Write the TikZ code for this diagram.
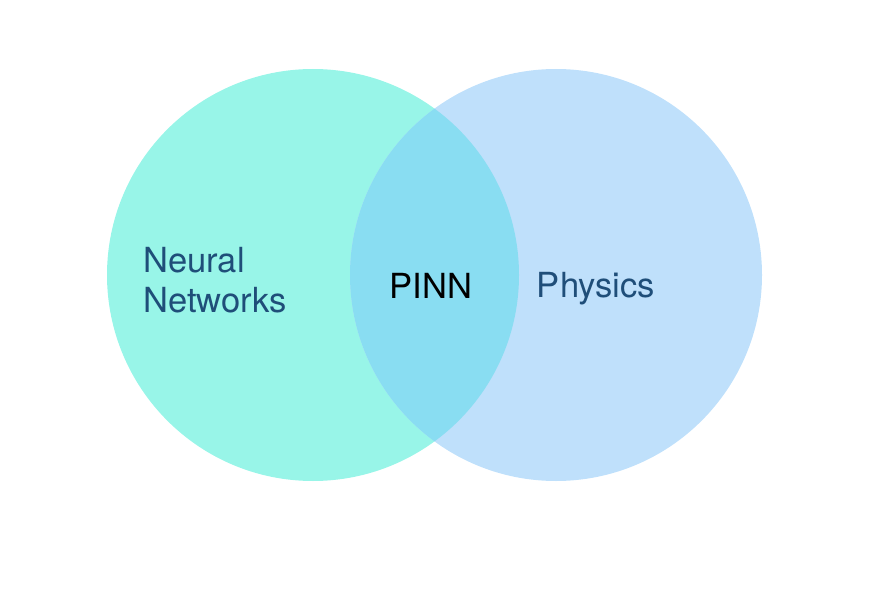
\documentclass[tikz,border=0pt]{standalone}
\usepackage{fontspec}
\setmainfont{TeX Gyre Heros}
\usepackage{xcolor}
\usetikzlibrary{positioning}

\definecolor{nncol}{HTML}{98F5E8}
\definecolor{phycol}{HTML}{BFE0FB}
\definecolor{pinncol}{HTML}{89DDF2}
\definecolor{labcol}{HTML}{1F4E79}

\begin{document}
\begin{tikzpicture}[
        x=0.03cm, y=-0.03cm,
        label/.style={
            inner sep=0pt, text=labcol,
            font=\fontsize{29.5}{34}\selectfont
        },
    ]

    \useasboundingbox (0,0) rectangle (870,592);

    % ── Circles ──
    \coordinate (nnc) at (313,275);
    \coordinate (phyc) at (556,275);
    \fill[nncol] (nnc) circle[radius=206];
    \fill[phycol] (phyc) circle[radius=206];
    \begin{scope}
        \clip (nnc) circle[radius=206];
        \fill[pinncol] (phyc) circle[radius=206];
    \end{scope}

    % ── Labels ──
    \node[label, align=left, anchor=west] (nn) at (143,280) {Neural\\Networks};
    \node[label, text=black, anchor=center] (pinn) at (431,286) {PINN};
    \node[label, anchor=base] (phy) at (596,297) {Physics};

\end{tikzpicture}
\end{document}
